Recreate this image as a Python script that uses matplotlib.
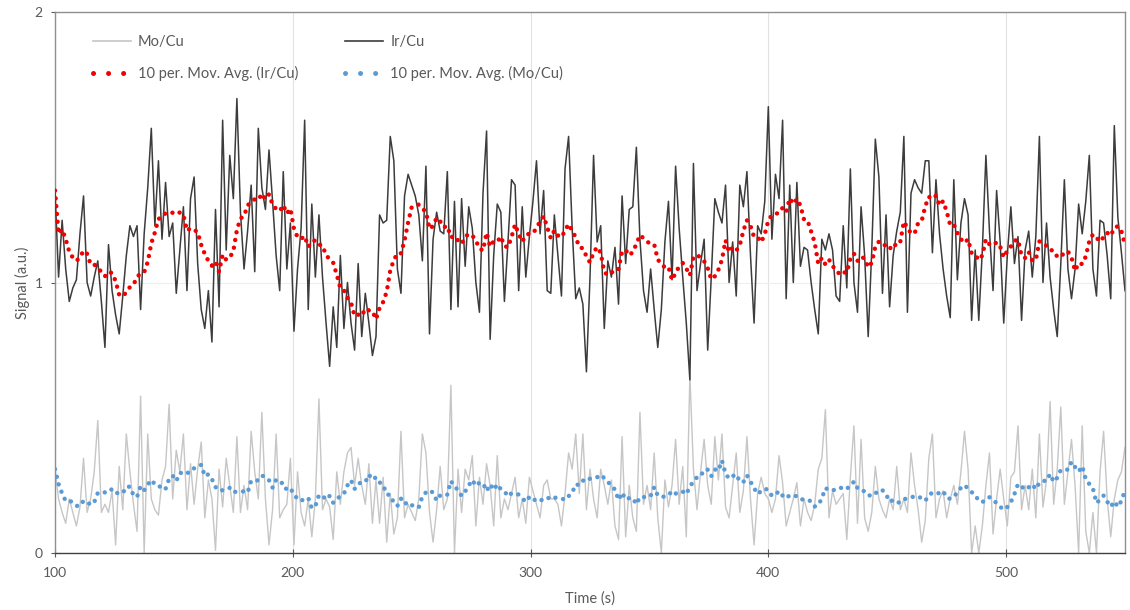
import numpy as np
import pandas as pd
import matplotlib
matplotlib.use("Agg")
import matplotlib.pyplot as plt
from matplotlib.lines import Line2D

plt.rcParams['font.family'] = ['Lato', 'DejaVu Sans']

# Time axis: one sample every 1.5 s from 100 s to 550 s
t_start, t_step, n_samples = 100.0, 1.5, 301
time_s = t_start + t_step * np.arange(n_samples)

# Ir/Cu signal ratio
ir_cu = [
    1.34, 1.02, 1.23, 1.05, 0.93, 0.98, 1.01, 1.18, 1.32, 1.00,
    0.95, 1.02, 1.08, 0.93, 0.76, 1.14, 0.97, 0.88, 0.81, 0.95,
    1.10, 1.21, 1.17, 1.21, 0.90, 1.18, 1.35, 1.57, 1.21, 1.45,
    1.16, 1.37, 1.17, 1.22, 0.96, 1.12, 1.28, 0.97, 1.31, 1.39,
    1.07, 0.90, 0.83, 0.97, 0.78, 1.27, 0.91, 1.60, 1.12, 1.47,
    1.31, 1.68, 1.26, 1.05, 1.19, 1.36, 1.04, 1.57, 1.35, 1.27,
    1.49, 1.30, 1.10, 0.97, 1.41, 1.05, 1.22, 0.82, 1.05, 1.20,
    1.60, 0.90, 1.29, 1.02, 1.25, 1.02, 0.85, 0.69, 0.91, 0.76,
    1.10, 0.83, 1.00, 0.85, 0.75, 1.07, 0.80, 0.96, 0.85, 0.73,
    0.80, 1.25, 1.22, 1.23, 1.54, 1.45, 1.05, 0.96, 1.32, 1.40,
    1.36, 1.32, 1.25, 1.08, 1.43, 0.81, 1.16, 1.26, 1.19, 1.18,
    1.41, 0.90, 1.30, 0.91, 1.31, 1.06, 1.28, 1.20, 1.00, 0.89,
    1.33, 1.56, 0.79, 1.10, 1.29, 1.26, 0.93, 1.15, 1.38, 1.36,
    0.97, 1.28, 1.02, 1.17, 1.30, 1.45, 1.18, 1.34, 0.97, 0.96,
    1.25, 1.10, 0.95, 1.42, 1.54, 1.20, 0.94, 0.98, 0.92, 0.67,
    1.02, 1.47, 1.15, 1.21, 0.83, 1.08, 1.02, 1.13, 0.92, 1.32,
    1.07, 1.27, 1.28, 1.50, 1.16, 0.97, 0.89, 1.05, 0.90, 0.76,
    0.90, 1.15, 1.30, 1.01, 1.43, 1.20, 1.02, 0.85, 0.64, 1.44,
    0.97, 1.07, 1.16, 0.75, 1.02, 1.31, 1.26, 1.22, 1.36, 1.00,
    1.15, 0.95, 1.36, 1.28, 1.41, 1.10, 0.85, 1.21, 1.18, 1.30,
    1.65, 1.16, 1.40, 1.31, 1.60, 0.94, 1.36, 1.00, 1.37, 1.06,
    1.13, 1.12, 1.00, 0.90, 0.81, 1.16, 1.12, 1.18, 1.12, 0.95,
    0.93, 1.21, 0.98, 1.42, 1.00, 0.89, 1.28, 1.10, 0.80, 1.12,
    1.53, 1.39, 0.96, 1.25, 0.91, 1.10, 1.19, 1.26, 1.54, 0.89,
    1.33, 1.38, 1.35, 1.33, 1.45, 1.45, 1.11, 1.38, 1.18, 1.05,
    0.95, 0.87, 1.38, 1.01, 1.22, 1.31, 1.25, 0.86, 1.12, 0.86,
    1.12, 1.47, 1.19, 0.97, 1.34, 1.15, 0.85, 1.10, 1.28, 1.07,
    1.17, 0.86, 1.12, 1.19, 1.02, 1.17, 1.54, 1.00, 1.22, 1.02,
    0.90, 0.80, 1.07, 1.38, 1.05, 0.94, 1.05, 1.29, 1.18, 1.30,
    1.47, 1.05, 0.95, 1.23, 1.22, 1.10, 0.94, 1.58, 1.24, 1.11,
    0.97,
]

# Mo/Cu signal ratio
mo_cu = [
    0.31, 0.20, 0.15, 0.11, 0.20, 0.15, 0.10, 0.17, 0.35, 0.15,
    0.20, 0.30, 0.49, 0.15, 0.18, 0.15, 0.23, 0.03, 0.32, 0.16,
    0.44, 0.30, 0.18, 0.08, 0.58, 0.00, 0.44, 0.20, 0.16, 0.14,
    0.27, 0.32, 0.55, 0.20, 0.38, 0.30, 0.44, 0.16, 0.33, 0.18,
    0.31, 0.41, 0.13, 0.27, 0.20, 0.01, 0.31, 0.17, 0.35, 0.25,
    0.15, 0.43, 0.15, 0.25, 0.16, 0.45, 0.30, 0.20, 0.52, 0.20,
    0.03, 0.16, 0.44, 0.13, 0.16, 0.18, 0.35, 0.03, 0.30, 0.15,
    0.10, 0.20, 0.06, 0.20, 0.57, 0.16, 0.20, 0.17, 0.05, 0.30,
    0.18, 0.30, 0.37, 0.39, 0.25, 0.35, 0.25, 0.18, 0.33, 0.11,
    0.27, 0.11, 0.28, 0.04, 0.22, 0.07, 0.13, 0.45, 0.13, 0.18,
    0.15, 0.12, 0.20, 0.44, 0.37, 0.15, 0.04, 0.16, 0.32, 0.16,
    0.20, 0.62, 0.00, 0.31, 0.15, 0.31, 0.27, 0.36, 0.10, 0.28,
    0.18, 0.33, 0.25, 0.10, 0.36, 0.13, 0.20, 0.16, 0.22, 0.28,
    0.13, 0.20, 0.11, 0.28, 0.23, 0.18, 0.13, 0.25, 0.27, 0.20,
    0.20, 0.18, 0.10, 0.22, 0.37, 0.31, 0.44, 0.22, 0.44, 0.16,
    0.31, 0.20, 0.13, 0.31, 0.25, 0.18, 0.27, 0.10, 0.05, 0.43,
    0.06, 0.25, 0.13, 0.08, 0.52, 0.18, 0.25, 0.16, 0.37, 0.13,
    0.00, 0.27, 0.17, 0.25, 0.42, 0.18, 0.32, 0.06, 0.66, 0.31,
    0.16, 0.30, 0.42, 0.25, 0.18, 0.43, 0.27, 0.44, 0.17, 0.13,
    0.25, 0.37, 0.15, 0.23, 0.43, 0.20, 0.03, 0.22, 0.28, 0.22,
    0.20, 0.15, 0.20, 0.36, 0.26, 0.10, 0.15, 0.20, 0.26, 0.10,
    0.20, 0.15, 0.12, 0.18, 0.31, 0.35, 0.53, 0.13, 0.23, 0.18,
    0.20, 0.22, 0.05, 0.28, 0.47, 0.11, 0.42, 0.13, 0.08, 0.15,
    0.32, 0.20, 0.16, 0.13, 0.20, 0.16, 0.32, 0.16, 0.20, 0.15,
    0.37, 0.25, 0.16, 0.04, 0.12, 0.35, 0.44, 0.13, 0.20, 0.23,
    0.13, 0.20, 0.25, 0.18, 0.30, 0.45, 0.31, 0.00, 0.10, 0.00,
    0.10, 0.25, 0.37, 0.07, 0.20, 0.31, 0.20, 0.10, 0.28, 0.30,
    0.47, 0.16, 0.25, 0.16, 0.31, 0.13, 0.44, 0.17, 0.27, 0.56,
    0.18, 0.31, 0.54, 0.18, 0.30, 0.42, 0.25, 0.00, 0.47, 0.08,
    0.00, 0.15, 0.00, 0.30, 0.45, 0.20, 0.06, 0.20, 0.27, 0.30,
    0.39,
]

x_ticks = [100, 200, 300, 400, 500]
y_ticks = [0, 1, 2]
ma_period = 10

df = pd.DataFrame({"time": time_s, "ir": ir_cu, "mo": mo_cu})
df["ir_ma"] = df["ir"].rolling(ma_period, min_periods=1).mean()
df["mo_ma"] = df["mo"].rolling(ma_period, min_periods=1).mean()

fig = plt.figure(figsize=(11.3, 6.1), dpi=100)
ax = fig.add_axes([55 / 1130, 57 / 610, 1070 / 1130, 541 / 610])

text_col = "#595959"
mo_col, ir_col = "#c6c6c6", "#3c3c3c"
ir_ma_col, mo_ma_col = "#f00000", "#5b9bd5"
dots = (0, (0.01, 1.75))
legend_dots = (0, (0.01, 3.0))

ax.plot(df["time"], df["mo"], color=mo_col, lw=1.0, zorder=2)
ax.plot(df["time"], df["ir"], color=ir_col, lw=1.1, zorder=3)
ax.plot(df["time"], df["ir_ma"], color=ir_ma_col, lw=3.2, linestyle=dots,
        dash_capstyle="round", zorder=4)
ax.plot(df["time"], df["mo_ma"], color=mo_ma_col, lw=3.2, linestyle=dots,
        dash_capstyle="round", zorder=4)

ax.set_xlim(100, 550)
ax.set_ylim(0, 2)
ax.set_xticks(x_ticks)
ax.set_yticks(y_ticks)
ax.tick_params(axis="both", labelsize=10, colors=text_col, width=0.8)
ax.tick_params(axis="x", direction="inout", length=6, pad=7)
ax.tick_params(axis="y", direction="out", length=3, pad=6)

ax.grid(True, axis="x", color="#e2e2e2", lw=0.8, zorder=0)
ax.grid(True, axis="y", color="#eeeeee", lw=0.8, zorder=0)

for side in ("top", "right", "left"):
    ax.spines[side].set_color("#8f8f8f")
    ax.spines[side].set_linewidth(1.0)
ax.spines["bottom"].set_color("#404040")
ax.spines["bottom"].set_linewidth(1.0)

ax.set_xlabel("Time (s)", fontsize=10.5, color=text_col, labelpad=9)
ax.set_ylabel("Signal (a.u.)", fontsize=10.5, color=text_col, labelpad=3)

# Legend: two columns, raw ratios on top, moving averages below
handles = [
    Line2D([], [], color=mo_col, lw=1.2),
    Line2D([], [], color=ir_ma_col, lw=3.6, linestyle=legend_dots, dash_capstyle="round"),
    Line2D([], [], color=ir_col, lw=1.2),
    Line2D([], [], color=mo_ma_col, lw=3.6, linestyle=legend_dots, dash_capstyle="round"),
]
labels = ["Mo/Cu", f"{ma_period} per. Mov. Avg. (Ir/Cu)",
          "Ir/Cu", f"{ma_period} per. Mov. Avg. (Mo/Cu)"]
leg = ax.legend(handles, labels, ncol=2, loc="upper left",
                bbox_to_anchor=(0.023, 0.982), frameon=False, fontsize=10.5,
                handlelength=2.6, columnspacing=3.2, labelspacing=1.15,
                handletextpad=0.5)
for txt in leg.get_texts():
    txt.set_color(text_col)

fig.savefig("out.png", dpi=100, facecolor="white")
